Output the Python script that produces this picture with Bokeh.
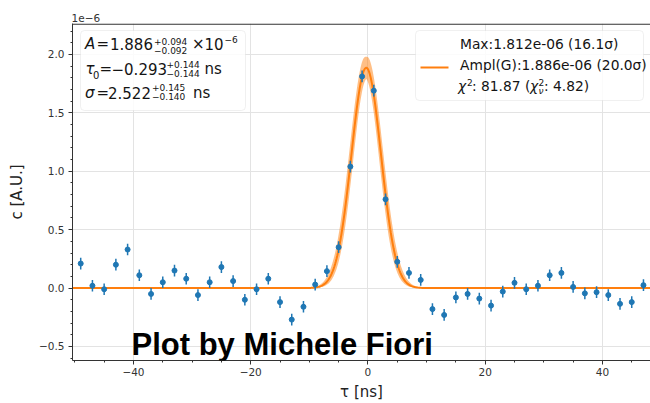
import numpy as np
from bokeh.plotting import figure
from bokeh.models import Label, BoxAnnotation, FixedTicker, Range1d
from bokeh.embed import file_html
from bokeh.resources import INLINE

# measured correlation c(tau), in units of 1e-6
tau = [-49, -47, -45, -43, -41, -39, -37, -35, -33, -31, -29, -27, -25, -23, -21,
       -19, -17, -15, -13, -11, -9, -7, -5, -3, -1, 1, 3, 5, 7, 9, 11, 13, 15, 17,
       19, 21, 23, 25, 27, 29, 31, 33, 35, 37, 39, 41, 43, 45, 47]
c_val = [0.21, 0.02, -0.01, 0.20, 0.33, 0.11, -0.05, 0.05, 0.15, 0.08, -0.06, 0.05,
         0.18, 0.06, -0.10, -0.01, 0.08, -0.12, -0.27, -0.16, 0.03, 0.145, 0.35,
         1.04, 1.812, 1.69, 0.76, 0.225, 0.13, 0.07, -0.18, -0.23, -0.08, -0.05,
         -0.09, -0.15, -0.03, 0.045, -0.01, 0.02, 0.11, 0.13, 0.01, -0.045, -0.035,
         -0.06, -0.135, -0.12, 0.025]
c_err = 0.05

# gaussian fit parameters (value, +err, -err)
A_fit = (1.886, 0.094, 0.092)
T0_fit = (-0.293, 0.144, 0.144)
SIG_fit = (2.522, 0.145, 0.140)

x_ticks = [-40, -20, 0, 20, 40]
x_tick_labels = ["\u221240", "\u221220", "0", "20", "40"]
y_ticks = [-0.5, 0.0, 0.5, 1.0, 1.5, 2.0]
y_tick_labels = ["\u22120.5", "0.0", "0.5", "1.0", "1.5", "2.0"]

BLUE = "#1f77b4"
ORANGE = "#ff7f0e"
INK = "#141414"
FRAME_LEFT, FRAME_TOP, FRAME_BOTTOM = 72, 23, 360

p = figure(width=650, height=403, output_backend="svg", toolbar_location=None,
           x_range=Range1d(-50.4, 48.2), y_range=Range1d(-0.62, 2.265),
           min_border_left=FRAME_LEFT, min_border_right=0,
           min_border_top=FRAME_TOP, min_border_bottom=403 - FRAME_BOTTOM)
p.outline_line_color = None
p.background_fill_color = "white"
p.border_fill_color = "white"

# scale factor of the y axis, shown above the frame
p.title.text = "1e\u22126"
p.title.align = "left"
p.title.offset = -1
p.title.standoff = 3
p.title.text_font = "DejaVu Sans"
p.title.text_font_size = "10.5px"
p.title.text_font_style = "normal"
p.title.text_color = "#333333"


def gauss(x, a, t0, s):
    return a * np.exp(-0.5 * ((x - t0) / s) ** 2)


# fit curve with its parameter uncertainty envelope
xs = np.linspace(-50.4, 48.2, 800)
curves = []
for a in (A_fit[0] - A_fit[2], A_fit[0], A_fit[0] + A_fit[1]):
    for t0 in (T0_fit[0] - T0_fit[2], T0_fit[0], T0_fit[0] + T0_fit[1]):
        for s in (SIG_fit[0] - SIG_fit[2], SIG_fit[0], SIG_fit[0] + SIG_fit[1]):
            curves.append(gauss(xs, a, t0, s))
curves = np.array(curves)
p.varea(x=xs, y1=curves.min(axis=0), y2=curves.max(axis=0),
        fill_color=ORANGE, fill_alpha=0.5)
p.line(xs, gauss(xs, A_fit[0], T0_fit[0], SIG_fit[0]), line_color=ORANGE,
       line_width=2)

# data points with error bars
tv = np.array(tau, dtype=float)
cv = np.array(c_val)
p.segment(x0=tv, y0=cv - c_err, x1=tv, y1=cv + c_err, line_color=BLUE,
          line_width=1.5)
p.scatter(tv, cv, size=5, fill_color=BLUE, line_color=BLUE)

# axes
for ax in (p.xaxis[0], p.yaxis[0]):
    ax.axis_line_color = "#333333"
    ax.major_tick_line_color = "#333333"
    ax.minor_tick_line_color = "#333333"
    ax.major_tick_in = 0
    ax.major_tick_out = 4
    ax.minor_tick_in = 0
    ax.minor_tick_out = 2
    ax.major_label_text_font = "DejaVu Sans"
    ax.major_label_text_font_size = "10.5px"
    ax.major_label_text_color = "#333333"
    ax.axis_label_text_font = "DejaVu Sans"
    ax.axis_label_text_font_size = "15px"
    ax.axis_label_text_font_style = "normal"
    ax.axis_label_text_color = "#222222"

p.xaxis.ticker = FixedTicker(ticks=x_ticks, minor_ticks=list(range(-50, 50, 5)))
p.xaxis.major_label_overrides = dict(zip(x_ticks, x_tick_labels))
p.xaxis.axis_label = "\u03c4 [ns]"
p.xaxis.axis_label_standoff = 4
p.xaxis.major_label_standoff = 3

p.yaxis.ticker = FixedTicker(ticks=y_ticks,
                             minor_ticks=[round(v, 1) for v in np.arange(-0.6, 2.3, 0.1)])
p.yaxis.major_label_overrides = dict(zip(y_ticks, y_tick_labels))
p.yaxis.axis_label = "c [A.U.]"
p.yaxis.axis_label_standoff = 10
p.yaxis.major_label_standoff = 4

p.xgrid.ticker = FixedTicker(ticks=x_ticks)
p.ygrid.ticker = FixedTicker(ticks=y_ticks)
p.grid.grid_line_color = "#e3e3e3"
p.grid.grid_line_width = 1


def sx(cx):
    return cx - FRAME_LEFT


def sy(cy):
    return FRAME_BOTTOM - cy


def txt(s, cx, base, size, style="normal", font="DejaVu Sans", color=INK):
    # place by baseline: the label is anchored on the middle of its text box
    mid = base - 0.346 * size
    p.add_layout(Label(x=sx(cx), y=sy(mid), x_units="screen", y_units="screen",
                       text=s, text_font=font, text_font_size=f"{size}px",
                       text_font_style=style, text_color=color,
                       text_baseline="middle", text_align="left"))


def screen_box(cx0, cy0, cx1, cy1, **kw):
    p.add_layout(BoxAnnotation(left=sx(cx0), right=sx(cx1), top=sy(cy0),
                               bottom=sy(cy1), left_units="screen",
                               right_units="screen", top_units="screen",
                               bottom_units="screen", **kw))


# top spine of the frame
screen_box(FRAME_LEFT, FRAME_TOP, 650, FRAME_TOP + 1.2, fill_color="#333333",
           fill_alpha=1, line_color=None)

# fit parameter box
screen_box(80, 30, 245, 110, fill_color="white", fill_alpha=0.85,
           line_color="#cccccc", line_width=1, border_radius=4)
F, S = 15, 9
txt("A", 84.5, 49, F, "italic")
txt("=", 96, 49, F)
txt("1.886", 109.5, 49, F)
txt("+0.094", 153.5, 44, S)
txt("\u22120.092", 153.5, 53, S)
txt("\u00d7", 191.5, 49, F)
txt("10", 204, 49, F)
txt("\u22126", 224, 42.5, S)

txt("\u03c4", 85, 74, F, "italic")
txt("0", 92.5, 77.5, 10)
txt("=", 99, 74, F)
txt("\u22120.293", 111, 74, F)
txt("+0.144", 166, 67, S)
txt("\u22120.144", 166, 76.5, S)
txt("ns", 204, 74, F)

txt("\u03c3", 84.5, 98, F, "italic")
txt("=", 96, 98, F)
txt("2.522", 107.5, 98, F)
txt("+0.145", 151.5, 90.5, S)
txt("\u22120.140", 151.5, 99.5, S)
txt("ns", 192.5, 98, F)

# fit summary box
screen_box(415, 30, 643, 100, fill_color="white", fill_alpha=0.85,
           line_color="#cccccc", line_width=1, border_radius=4)
screen_box(420, 66, 448, 68, fill_color=ORANGE, fill_alpha=1, line_color=None)
L = 13.8
txt("Max:1.812e-06 (16.1\u03c3)", 459.5, 48, L)
txt("Ampl(G):1.886e-06 (20.0\u03c3)", 459.5, 69, L)
txt("\u03c7", 457.5, 90.5, L, "italic")
txt("2", 466.5, 85, 9)
txt(": 81.87 (", 471.5, 90.5, L)
txt("\u03c7", 529.5, 90.5, L, "italic")
txt("2", 538, 85, 9)
txt("\u03bd", 538, 94, 9, "italic")
txt(": 4.82)", 543.5, 90.5, L)

# signature
txt("Plot by Michele Fiori", 131, 355, 31, "bold", font="Liberation Sans",
    color="black")

open("out.html", "w").write(file_html(p, INLINE))
